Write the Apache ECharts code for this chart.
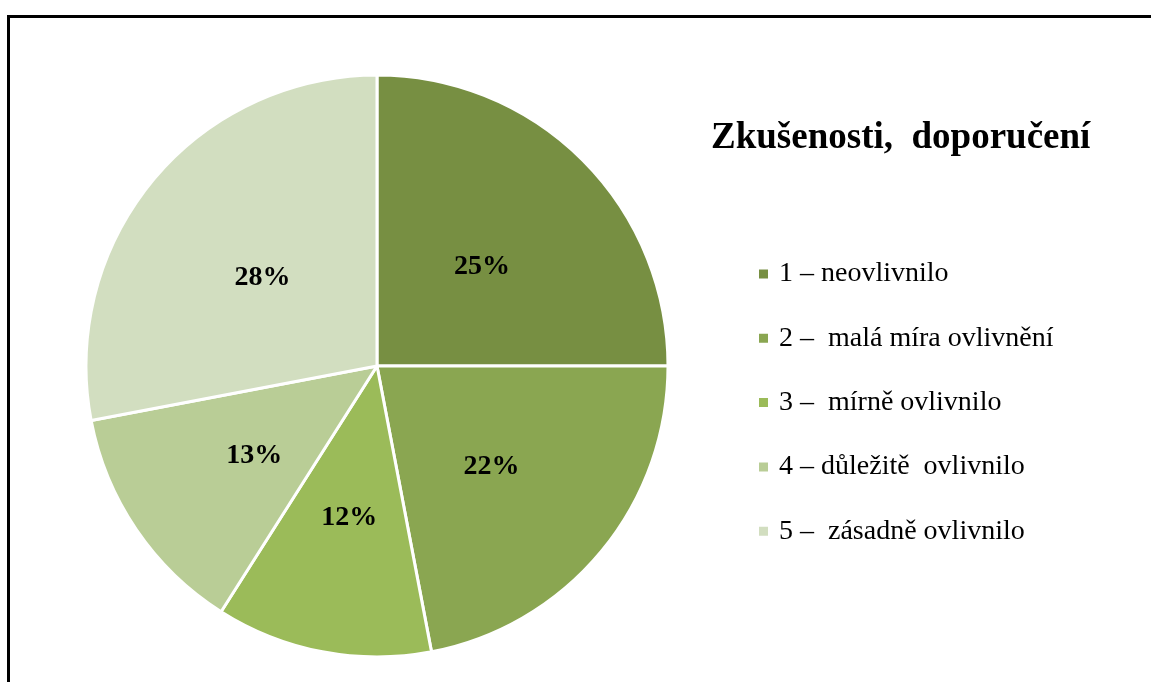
<!DOCTYPE html>
<html><head><meta charset="utf-8">
<script src="https://cdn.jsdelivr.net/npm/echarts@6/dist/echarts.min.js"></script>
<style>html,body{margin:0;padding:0;background:#fff}#c{width:1151px;height:682px}</style>
</head><body><div id="c"></div>
<script>
const categories = ['1 – neovlivnilo', '2 –  malá míra ovlivnění', '3 –  mírně ovlivnilo', '4 – důležitě  ovlivnilo', '5 –  zásadně ovlivnilo'];
const values = [25, 22, 12, 13, 28];
const colors = ['#778f42', '#8aa651', '#9bbb59', '#b9cd96', '#d2dec0'];
const titleText = 'Zkušenosti,  doporučení';

const chart = echarts.init(document.getElementById('c'));
chart.setOption({
  animation: false,
  color: colors,
  title: {
    text: titleText, left: 706, top: 115,
    textStyle: {fontFamily: 'Liberation Serif', fontWeight: 'bold', fontSize: 37, color: '#000'}
  },
  legend: {
    orient: 'vertical', left: 752, top: 255,
    itemWidth: 11, itemHeight: 11, itemGap: 36.3, icon: 'rect',
    textStyle: {fontFamily: 'Liberation Serif', fontSize: 28, color: '#000', lineHeight: 28, padding: [0,0,0,5]},
    data: categories
  },
  graphic: [{
    type: 'rect', shape: {x: 8.5, y: 16.5, width: 1160, height: 700},
    style: {fill: 'none', stroke: '#000', lineWidth: 3}, silent: true
  }],
  series: [{
    type: 'pie', center: [377, 366], radius: 291, startAngle: 90, clockwise: true,
    itemStyle: {borderColor: '#fff', borderWidth: 3},
    label: {position: 'inside', formatter: '{d}%', fontFamily: 'Liberation Serif', fontWeight: 'bold', fontSize: 28, color: '#000', offset: [0, 6]},
    labelLine: {show: false},
    emphasis: {disabled: true},
    data: categories.map((n, i) => ({name: n, value: values[i]}))
  }]
});
</script></body></html>
